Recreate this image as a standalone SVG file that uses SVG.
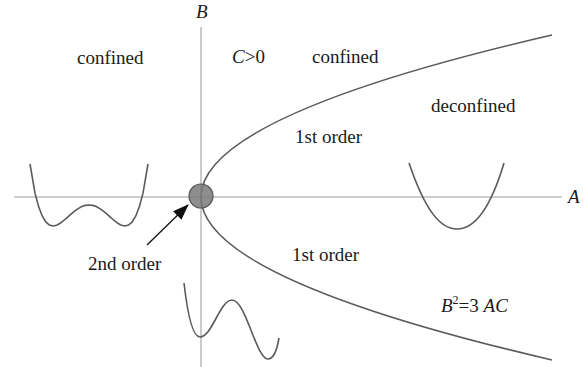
<svg xmlns="http://www.w3.org/2000/svg" width="583" height="367" viewBox="0 0 583 367">
<style>
.axis{stroke:#bdbdbd;stroke-width:1.6;fill:none}
.curve{stroke:#5a5a5a;stroke-width:1.6;fill:none}
text{font-family:"Liberation Serif","Times New Roman",serif;font-size:19px;fill:#1a1a1a}
.it{font-style:italic}
</style>
<defs>
<marker id="ah" markerWidth="16" markerHeight="12" refX="15" refY="6" orient="auto" markerUnits="userSpaceOnUse">
<path d="M0,0 L16,6 L0,12 Z" fill="#111"/>
</marker>
</defs>
<rect width="583" height="367" fill="#fff"/>
<g id="axes">
<line class="axis" x1="14" y1="197" x2="562" y2="197"/>
<line class="axis" x1="201" y1="27" x2="201" y2="367"/>
<text class="it" x="196" y="18">B</text>
<text class="it" x="568" y="203">A</text>
</g>
<g id="boundary">
<path class="curve" d="M201,197 Q201,116 552,35"/>
<path class="curve" d="M201,197 Q201,278.5 552,360"/>
</g>
<g id="potentials">
<polyline class="curve" points="30,164 35,193.2 38.6,206.6 42.2,216 45.8,221.9 49.4,225.1 53,226 56.6,225.2 60.2,223.3 63.8,220.5 67.4,217.4 71,214.2 74.6,211.2 78.2,208.6 81.8,206.6 85.4,205.4 89,205 92.6,205.4 96.2,206.6 99.8,208.6 103.4,211.2 107,214.2 110.6,217.4 114.2,220.5 117.8,223.3 121.4,225.2 125,226 128.6,225.1 132.2,221.9 135.8,216 139.4,206.6 143,193.2 148,164"/>
<path class="curve" d="M409,163 C425,210 440,229 457,229 C474,229 490,210 504,163"/>
<path class="curve" d="M184,283 C188,318 193,337 200,337 C212,337 220,300 232,300 C246,300 256,359 268,359 C274,359 277,350 279,338"/>
</g>
<g id="critical-point">
<circle cx="201" cy="196" r="12" fill="#7a7a7a" fill-opacity="0.85" stroke="#555" stroke-width="1.2"/>
</g>
<g id="connectors">
<line x1="147" y1="245" x2="188" y2="205" stroke="#111" stroke-width="1.3" marker-end="url(#ah)"/>
</g>
<g id="labels">
<text x="77" y="64">confined</text>
<text x="232" y="63"><tspan class="it">C</tspan>&gt;0</text>
<text x="312" y="63">confined</text>
<text x="431" y="112">deconfined</text>
<text x="295" y="143">1st order</text>
<text x="292" y="261">1st order</text>
<text x="88" y="270">2nd order</text>
<text x="441" y="312"><tspan class="it">B</tspan><tspan font-size="12" dy="-8">2</tspan><tspan dy="8">=3 </tspan><tspan class="it">AC</tspan></text>
</g>
</svg>
